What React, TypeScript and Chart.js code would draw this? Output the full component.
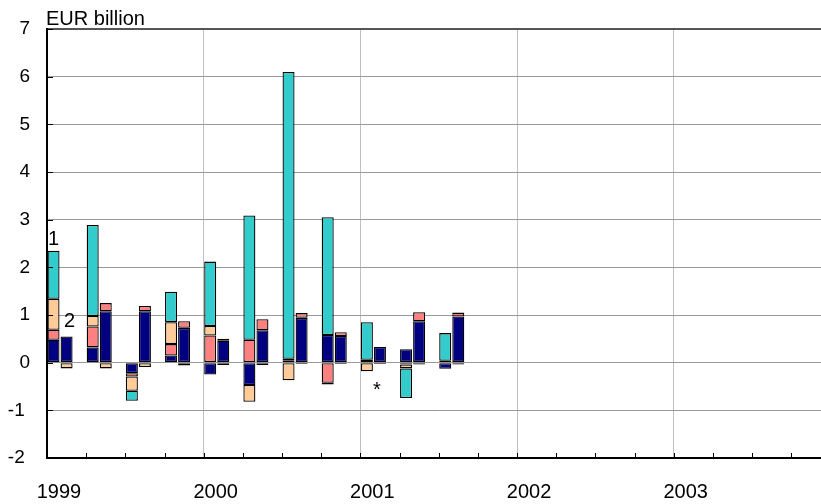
import React, { useEffect, useRef } from 'react';
import { Chart, registerables } from 'chart.js';

Chart.register(...registerables);

const quarters = [
  '1999 Q1', '1999 Q2', '1999 Q3', '1999 Q4',
  '2000 Q1', '2000 Q2', '2000 Q3', '2000 Q4',
  '2001 Q1', '2001 Q2', '2001 Q3', '2001 Q4',
  '2002 Q1', '2002 Q2', '2002 Q3', '2002 Q4',
  '2003 Q1', '2003 Q2', '2003 Q3', '2003 Q4',
];
const unitLabel = 'EUR billion';

// Bar 1 components
const navy1 = [0.48, 0.32, -0.22, 0.15, -0.25, -0.47, 0.04, 0.58, 0.06, 0.28, -0.13];
const salmon1 = [0.21, 0.44, -0.07, 0.24, 0.57, 0.48, 0.04, -0.42, 0, -0.04, 0];
const peach1 = [0.65, 0.22, -0.3, 0.46, 0.2, -0.35, -0.37, -0.04, -0.18, -0.08, 0.04];
const cyan1 = [1.01, 1.91, -0.21, 0.64, 1.35, 2.61, 6.02, 2.47, 0.79, -0.62, 0.58];

// Bar 2 components
const navy2 = [0.55, 1.08, 1.08, 0.73, 0.46, 0.68, 0.94, 0.56, 0.33, 0.87, 0.97];
const salmon2 = [0, 0.17, 0.11, 0.14, 0.04, 0.23, 0.1, 0.08, 0, 0.19, 0.08];
const peach2 = [-0.12, -0.12, -0.09, -0.06, -0.05, -0.05, -0.03, -0.03, -0.03, -0.04, -0.04];

const NAVY = '#000080';
const SALMON = '#FF8080';
const PEACH = '#FFCC99';
const CYAN = '#33CCCC';
const FONT = '"Liberation Sans", Arial, sans-serif';

const extras = {
  id: 'extras',
  afterDraw(chart: any) {
    const ctx = chart.ctx;
    const { left, top, bottom } = chart.chartArea;
    const xs = chart.scales.x;
    const ys = chart.scales.y;
    ctx.save();
    // inner tick marks
    ctx.strokeStyle = '#000';
    ctx.lineWidth = 1;
    for (let v = ys.min; v <= ys.max; v++) {
      const py = Math.round(ys.getPixelForValue(v)) + 0.5;
      ctx.beginPath();
      ctx.moveTo(left, py);
      ctx.lineTo(left + 6, py);
      ctx.stroke();
    }
    const half = (xs.getPixelForValue(1) - xs.getPixelForValue(0)) / 2;
    for (let i = 0; i <= quarters.length; i++) {
      const px = Math.round(xs.getPixelForValue(i) - half) + 0.5;
      ctx.beginPath();
      ctx.moveTo(px, bottom);
      ctx.lineTo(px, bottom - 5);
      ctx.stroke();
    }
    // unit label
    ctx.fillStyle = '#000';
    ctx.font = '20px ' + FONT;
    ctx.textAlign = 'left';
    ctx.textBaseline = 'alphabetic';
    ctx.fillText(unitLabel, left - 1, top - 4);
    // bar labels
    ctx.textAlign = 'center';
    const b1 = chart.getDatasetMeta(3).data[0];
    ctx.fillText('1', b1.x, b1.y - 6);
    const b2 = chart.getDatasetMeta(4).data[0];
    ctx.fillText('2', b2.x + 3, b2.y - 9);
    const bs = chart.getDatasetMeta(4).data[8];
    ctx.fillText('*', bs.x - 3, ys.getPixelForValue(0) + 33);
    ctx.restore();
  },
};

export default function App() {
  const ref = useRef<HTMLCanvasElement | null>(null);
  useEffect(() => {
    if (!ref.current) return;
    const common = {
      borderColor: '#000',
      borderWidth: 1.3,
      borderSkipped: false,
      categoryPercentage: 1,
      barPercentage: 0.92,
    };
    const chart = new Chart(ref.current, {
      type: 'bar',
      data: {
        labels: quarters,
        datasets: [
          { ...common, data: navy1, backgroundColor: NAVY, stack: 'a' },
          { ...common, data: salmon1, backgroundColor: SALMON, stack: 'a' },
          { ...common, data: peach1, backgroundColor: PEACH, stack: 'a' },
          { ...common, data: cyan1, backgroundColor: CYAN, stack: 'a' },
          { ...common, data: navy2, backgroundColor: NAVY, stack: 'b' },
          { ...common, data: salmon2, backgroundColor: SALMON, stack: 'b' },
          { ...common, data: peach2, backgroundColor: PEACH, stack: 'b' },
          { ...common, data: [], backgroundColor: 'transparent', stack: 'c' },
        ] as any,
      },
      options: {
        animation: false,
        responsive: false,
        maintainAspectRatio: false,
        devicePixelRatio: 1,
        layout: { padding: { top: 29, right: 9.6, left: 0, bottom: 0 } },
        plugins: { legend: { display: false }, tooltip: { enabled: false } },
        scales: {
          x: {
            stacked: true,
            offset: true,
            afterFit: (s: any) => { s.height = 46; },
            grid: {
              offset: true,
              drawTicks: false,
              color: (c: any) => (c.index !== undefined && c.index % 4 === 0 ? '#c0c0c0' : 'rgba(0,0,0,0)'),
              lineWidth: 1,
            },
            border: { display: true, color: '#000', width: 2 },
            ticks: {
              autoSkip: false,
              maxRotation: 0,
              minRotation: 0,
              padding: 22,
              labelOffset: -7.6,
              color: '#000',
              font: { family: FONT, size: 20 },
              callback: (v: any, i: number) => (i % 4 === 0 ? quarters[i].slice(0, 4) : ''),
            },
          },
          y: {
            stacked: true,
            min: -2,
            max: 7,
            afterFit: (s: any) => { s.width = 47; },
            grid: {
              drawTicks: false,
              color: (c: any) => (c.tick && c.tick.value === 7 ? '#555' : '#999'),
              lineWidth: (c: any) => (c.tick && c.tick.value === 7 ? 2 : 1),
            },
            border: { display: true, color: '#000', width: 2 },
            ticks: {
              stepSize: 1,
              padding: 17,
              color: '#000',
              font: { family: FONT, size: 19 },
              callback: (v: any) => (Number(v) < 0 ? String(v) + ' ' : String(v)),
            },
          },
        },
      } as any,
      plugins: [extras],
    });
    return () => chart.destroy();
  }, []);
  return (
    <div style={{ position: 'fixed', left: 0, top: 0, width: 821, height: 504, overflow: 'hidden', background: '#fff' }}>
      <canvas ref={ref} width={840} height={504} style={{ width: 840, height: 504, display: 'block' }} />
    </div>
  );
}
